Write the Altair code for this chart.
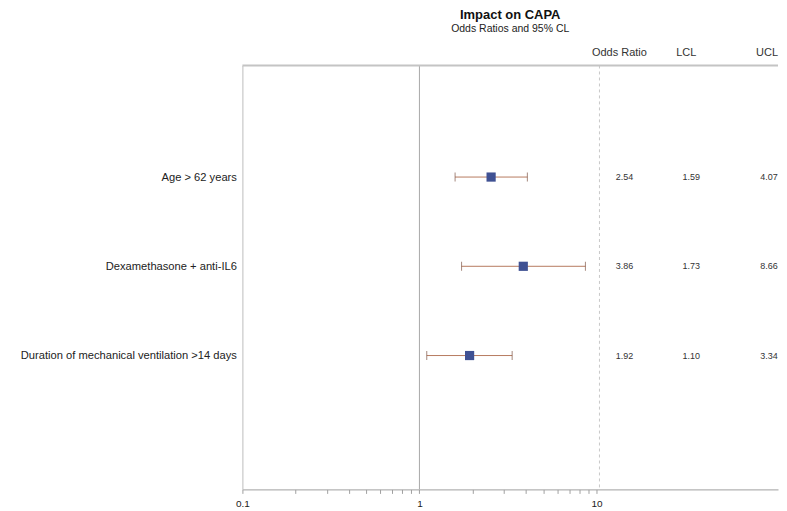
import json
import altair as alt
import pandas as pd

# ---- data ----
factors = ["Age > 62 years", "Dexamethasone + anti-IL6",
           "Duration of mechanical ventilation >14 days"]
odds_ratio = [2.54, 3.86, 1.92]
lcl = [1.59, 1.73, 1.10]
ucl = [4.07, 8.66, 3.34]
row = [1, 2, 3]

major_ticks = [0.1, 1, 10]
minor_ticks = [0.2, 0.3, 0.4, 0.5, 0.6, 0.7, 0.8, 0.9,
               2, 3, 4, 5, 6, 7, 8, 9]
col_headers = ["Odds Ratio", "LCL", "UCL"]

df = pd.DataFrame({"factor": factors, "or": odds_ratio, "lcl": lcl,
                   "ucl": ucl, "row": row})

FONT = "Liberation Sans"
W, H = 537, 425
X_MAX = 10 ** (-1 + W / 177.5)

xscale = alt.Scale(type="log", domain=[0.1, X_MAX], nice=False)
yscale = alt.Scale(domain=[-0.25, 4.5], reverse=True, nice=False, zero=False)

label_expr = json.dumps(factors) + "[datum.value - 1]"
x_label_expr = ("indexof(" + json.dumps(major_ticks) +
                ", datum.value) >= 0 ? format(datum.value, '~g') : ''")

base = alt.Chart(df)

x_enc = alt.X("or:Q", scale=xscale, title=None,
              axis=alt.Axis(values=sorted(major_ticks + minor_ticks),
                            labelExpr=x_label_expr, grid=False,
                            domainColor="#a0a0a0", tickColor="#a0a0a0",
                            tickSize=4, labelFontSize=10, labelPadding=5,
                            labelColor="#222", labelFont=FONT,
                            labelFlush=False))
y_enc = alt.Y("row:Q", scale=yscale, title=None,
              axis=alt.Axis(values=row, labelExpr=label_expr, ticks=False,
                            grid=False, domainColor="#bdbdbd",
                            labelFontSize=11.2, labelColor="#222",
                            labelFont=FONT, labelPadding=6, labelLimit=400))

points = base.mark_point(shape="square", filled=True, size=85,
                         color="#3f5193", opacity=1).encode(x=x_enc, y=y_enc)

bars = base.mark_rule(color="#b77a5f", strokeWidth=1).encode(
    x=alt.X("lcl:Q", scale=xscale), x2="ucl:Q",
    y=alt.Y("row:Q", scale=yscale))

cap_lo = base.mark_tick(orient="vertical", color="#7d5444", size=9,
                        thickness=1).encode(
    x=alt.X("lcl:Q", scale=xscale), y=alt.Y("row:Q", scale=yscale))
cap_hi = base.mark_tick(orient="vertical", color="#7d5444", size=9,
                        thickness=1).encode(
    x=alt.X("ucl:Q", scale=xscale), y=alt.Y("row:Q", scale=yscale))

ref_one = alt.Chart(pd.DataFrame({"v": [1]})).mark_rule(
    color="#a8a8a8", strokeWidth=1).encode(x=alt.X("v:Q", scale=xscale))

sep = alt.Chart(pd.DataFrame({"v": [0]})).mark_rule(
    color="#c8c8c8", strokeDash=[3, 3], strokeWidth=1).encode(
    x=alt.value(358), y=alt.value(0), y2=alt.value(H))

top_border = alt.Chart(pd.DataFrame({"v": [0]})).mark_rule(
    color="#c4c4c4", strokeWidth=2).encode(
    x=alt.value(0), x2=alt.value(W), y=alt.value(0))

header_x = [378, 445, 526]
value_x = [383, 450, 528]
value_fields = ["or", "lcl", "ucl"]

layers = [ref_one, sep, top_border, bars, cap_lo, cap_hi, points]

for hx, name in zip(header_x, col_headers):
    layers.append(
        alt.Chart(pd.DataFrame({"h": [name]})).mark_text(
            font=FONT, fontSize=11, color="#333", align="center",
            baseline="middle").encode(
            x=alt.value(hx), y=alt.value(-13), text="h:N"))

for vx, f in zip(value_x, value_fields):
    layers.append(
        base.mark_text(font=FONT, fontSize=9, color="#333",
                       align="center", baseline="middle").encode(
            x=alt.value(vx), y=alt.Y("row:Q", scale=yscale),
            text=alt.Text(f + ":Q", format=".2f")))

chart = alt.layer(*layers).properties(
    width=W, height=H,
    padding={"left": 12, "top": 0, "right": 0, "bottom": 0},
    title=alt.TitleParams("Impact on CAPA",
                          subtitle="Odds Ratios and 95% CL",
                          font=FONT, fontSize=13, fontWeight="bold",
                          subtitleFont=FONT, subtitleFontSize=10.5,
                          subtitleColor="#222", color="#111",
                          anchor="middle", frame="group", offset=12,
                          subtitlePadding=2)
).configure_view(stroke=None)

chart.save("out.html", embed_options={"renderer": "svg", "actions": False})
